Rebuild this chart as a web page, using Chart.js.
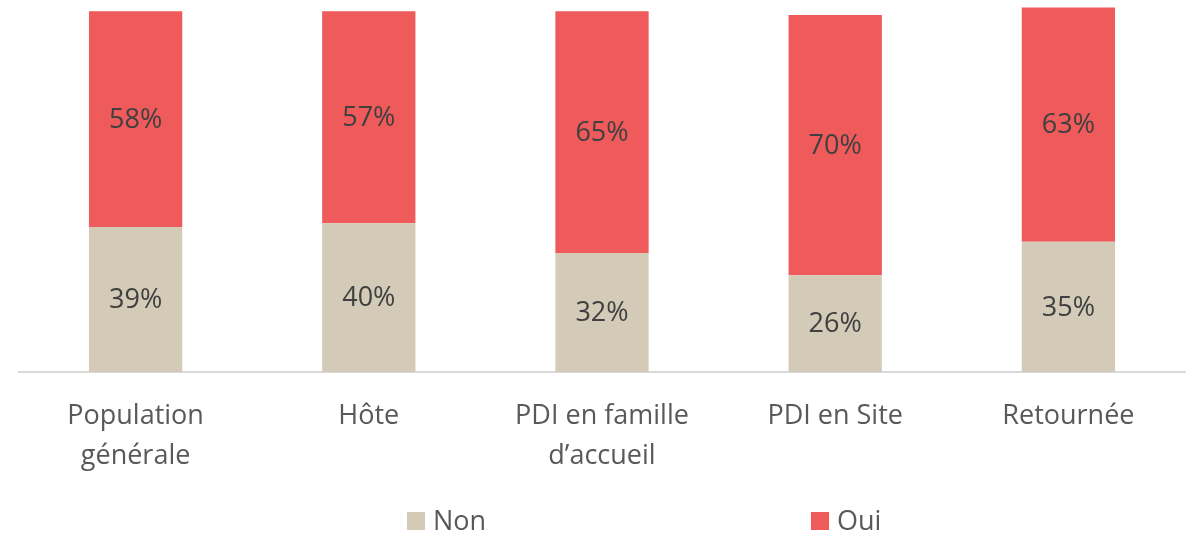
<!DOCTYPE html>
<html>
<head>
<meta charset="utf-8">
<script src="https://cdn.jsdelivr.net/npm/chart.js@4/dist/chart.umd.min.js"></script>
<style>
html,body{margin:0;padding:0;background:#fff;}
#wrap{width:1193px;height:534px;position:relative;}
</style>
</head>
<body>
<div id="wrap"><canvas id="c" width="1193" height="534"></canvas></div>
<script>
const categories = [["Population","générale"],"Hôte",["PDI en famille","d’accueil"],"PDI en Site","Retournée"];
const nonValues = [39, 40, 32, 26, 35];
const ouiValues = [58, 57, 65, 70, 63];
const seriesNames = ["Non", "Oui"];
const colors = ["#D3CBB8", "#EF5A5A"];
const FONT = "'Open Sans', 'Noto Sans', sans-serif";

const dataLabels = {
  id: 'dataLabels',
  afterDatasetsDraw(chart) {
    const ctx = chart.ctx;
    ctx.save();
    ctx.font = "27px " + FONT;
    ctx.fillStyle = "#404040";
    ctx.textAlign = "center";
    ctx.textBaseline = "middle";
    chart.data.datasets.forEach((ds, i) => {
      const meta = chart.getDatasetMeta(i);
      meta.data.forEach((bar, j) => {
        const y = (bar.y + bar.base) / 2;
        ctx.fillText(ds.data[j] + "%", bar.x, y + 1);
      });
    });
    ctx.restore();
  }
};

const customLegend = {
  id: 'customLegend',
  afterDraw(chart) {
    const ctx = chart.ctx;
    ctx.save();
    ctx.font = "27px " + FONT;
    ctx.textBaseline = "middle";
    ctx.textAlign = "left";
    const xs = [407, 811];
    chart.data.datasets.forEach((ds, i) => {
      ctx.fillStyle = ds.backgroundColor;
      ctx.fillRect(xs[i], 512, 18, 18);
      ctx.fillStyle = "#595959";
      ctx.fillText(ds.label, xs[i] + 26, 522);
    });
    ctx.restore();
  }
};

new Chart(document.getElementById('c'), {
  type: 'bar',
  data: {
    labels: categories,
    datasets: [
      { label: seriesNames[0], data: nonValues, backgroundColor: colors[0], categoryPercentage: 1, barPercentage: 0.4 },
      { label: seriesNames[1], data: ouiValues, backgroundColor: colors[1], categoryPercentage: 1, barPercentage: 0.4 }
    ]
  },
  options: {
    responsive: false,
    animation: false,
    devicePixelRatio: 1,
    layout: { padding: { left: 19, right: 8, top: 0, bottom: 0 } },
    plugins: { legend: { display: false }, tooltip: { enabled: false } },
    scales: {
      x: {
        stacked: true,
        grid: { display: false, drawTicks: false },
        border: { display: true, color: "#D9D9D9", width: 2 },
        ticks: { color: "#595959", font: { family: FONT, size: 27, lineHeight: 1.48 }, padding: 24, maxRotation: 0, autoSkip: false },
        afterFit(s) { s.height = 162; }
      },
      y: {
        stacked: true,
        display: false,
        min: 0, max: 100
      }
    }
  },
  plugins: [dataLabels, customLegend]
});
</script>
</body>
</html>
